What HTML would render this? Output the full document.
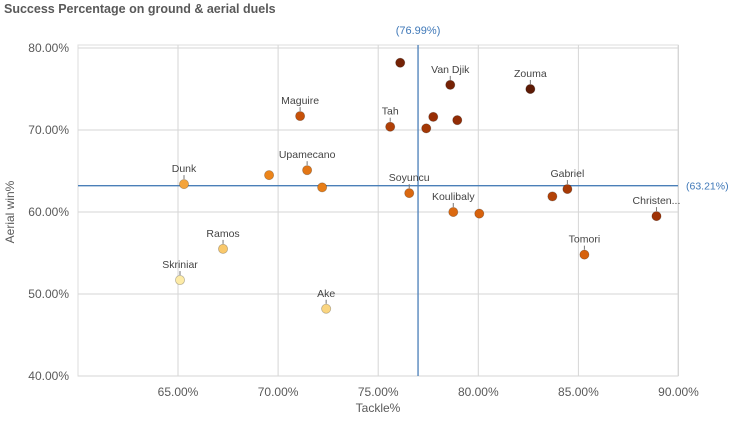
<!DOCTYPE html>
<html><head><meta charset="utf-8"><style>
body{margin:0;background:#fff;font-family:"Liberation Sans",sans-serif;}
svg text{font-family:"Liberation Sans",sans-serif;}
</style></head><body>
<svg id="chart" width="730" height="428" xmlns="http://www.w3.org/2000/svg">
<text x="4" y="13" font-size="12.5" font-weight="bold" fill="#595959">Success Percentage on ground &amp; aerial duels</text>
<g id="grid"></g><g id="refs"></g><g id="pts"></g>
<text x="378" y="412" font-size="12" fill="#595959" text-anchor="middle">Tackle%</text>
<text transform="translate(14,212) rotate(-90)" font-size="12" fill="#595959" text-anchor="middle">Aerial win%</text>
</svg>
<script>
const names=["","Van Djik","Zouma","Maguire","Tah","","","","Dunk","","Upamecano","","Soyuncu","Koulibaly","","Gabriel","","Christen...","Tomori","Ramos","Skriniar","Ake"];
const tackle=[76.1,78.6,82.6,71.1,75.6,77.75,77.4,78.95,65.3,69.55,71.45,72.2,76.55,78.75,80.05,84.45,83.7,88.9,85.3,67.25,65.1,72.4];
const aerial=[78.2,75.5,75.0,71.7,70.4,71.6,70.2,71.2,63.4,64.5,65.1,63.0,62.3,60.0,59.8,62.8,61.9,59.5,54.8,55.5,51.7,48.2];
const xTicks=[65,70,75,80,85,90];
const yTicks=[40,50,60,70,80];
const refX=76.99, refY=63.21;
const NS="http://www.w3.org/2000/svg";
const X=v=>178+(v-65)*20.02, Y=v=>48+(80-v)*8.2;
function mk(t,a,p){const e=document.createElementNS(NS,t);for(const k in a)e.setAttribute(k,a[k]);p.appendChild(e);return e;}
const grid=document.getElementById('grid'),refs=document.getElementById('refs'),pts=document.getElementById('pts');
let frame=mk('rect',{x:78,y:45,width:600,height:331,fill:'none',stroke:'#ddd'},grid);


xTicks.forEach(t=>{
 const l=mk('line',{x1:X(t),x2:X(t),y1:45,y2:376,stroke:'#d6d6d6'},grid);
 
 
 const tx=mk('text',{x:X(t),y:396,'font-size':12,fill:'#595959','text-anchor':'middle'},grid);tx.textContent=t.toFixed(2)+'%';
 
 
});
yTicks.forEach(t=>{
 const l=mk('line',{x1:78,x2:678,y1:Y(t),y2:Y(t),stroke:'#d6d6d6'},grid);
 
 
 const tx=mk('text',{x:69,y:Y(t)+4,'font-size':12,fill:'#595959','text-anchor':'end'},grid);tx.textContent=t.toFixed(2)+'%';
 
 
});
let rv=mk('line',{x1:X(refX),x2:X(refX),y1:45,y2:376,stroke:'#4a7fb8','stroke-width':1.3},refs);


let rvt=mk('text',{x:X(refX),y:34,'font-size':11,fill:'#3f78b8','text-anchor':'middle'},refs);rvt.textContent='('+refX.toFixed(2)+'%)';


let rh=mk('line',{x1:78,x2:678,y1:Y(refY),y2:Y(refY),stroke:'#4a7fb8','stroke-width':1.3},refs);


let rht=mk('text',{x:686,y:Y(refY)+4,'font-size':10.5,fill:'#3f78b8'},refs);rht.textContent='('+refY.toFixed(2)+'%)';


const stops=[[253,240,175],[248,190,90],[240,140,30],[210,90,10],[150,45,5],[90,25,5]];
function col(s){let f=(s-116)/(158-116);f=Math.max(0,Math.min(1,f))*(stops.length-1);const i=Math.min(Math.floor(f),stops.length-2),r=f-i;
 return 'rgb('+stops[i].map((c,k)=>Math.round(c+(stops[i+1][k]-c)*r)).join(',')+')';}
tackle.forEach((t,i)=>{
 const cx=X(t),cy=Y(aerial[i]),c=col(t+aerial[i]);
 const d=mk('circle',{cx:cx,cy:cy,r:4.6,fill:c,stroke:'rgba(0,0,0,0.25)','stroke-width':0.8},pts);
 
 
 if(names[i]){
  const tk=mk('line',{x1:cx,x2:cx,y1:cy-9,y2:cy-5,stroke:'#777'},pts);
  
  
  const tx=mk('text',{x:cx,y:cy-12,'font-size':10.5,fill:'#444','text-anchor':'middle'},pts);tx.textContent=names[i];
  
  
 }
});
</script>
</body></html>
